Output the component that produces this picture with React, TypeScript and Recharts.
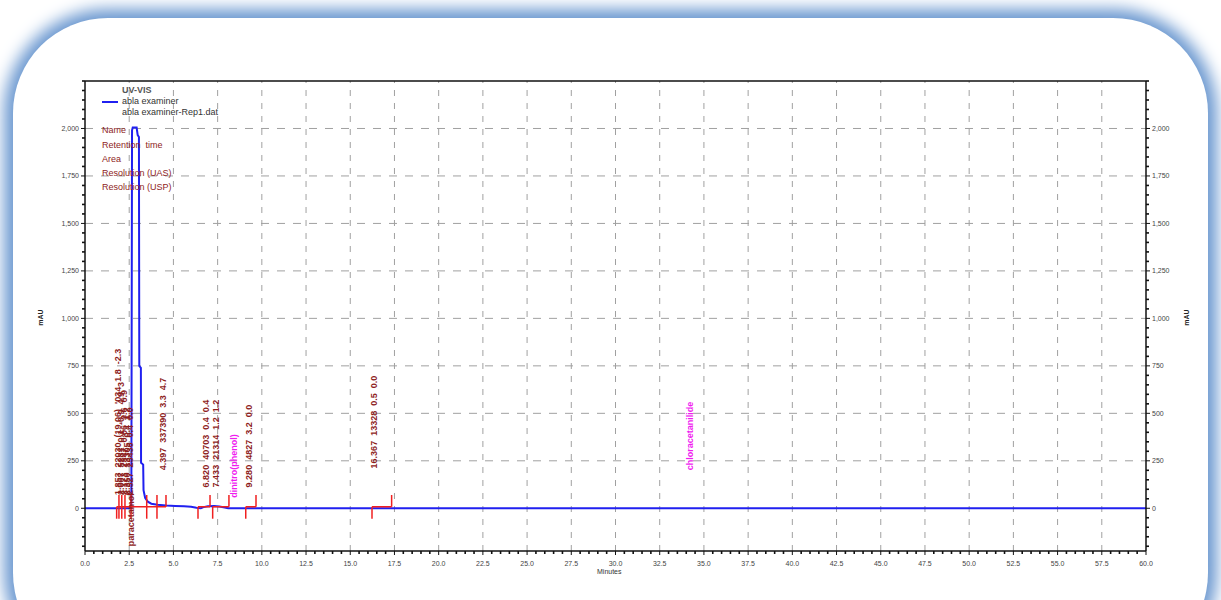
import React from 'react';
import { ComposedChart, Line, XAxis, YAxis, ReferenceLine, Scatter } from 'recharts';

// UV-VIS trace (minutes / mAU)
const times = [0, 2.62, 2.66, 2.7, 2.92, 2.98, 3.05, 3.07, 3.16, 3.17, 3.29, 3.31, 3.4, 3.55, 3.75, 4.1, 4.6, 5.1, 5.6, 6.0, 6.3, 6.55, 6.7, 6.95, 7.3, 7.6, 7.9, 8.1, 60];
const mau = [0, 0, 1990, 2005, 2005, 1965, 1955, 750, 740, 240, 230, 95, 55, 35, 24, 18, 14, 12, 10, 8, 3, 0, 6, 11, 12, 9, 4, 0, 0];

// integration marks
const peakStart = [1.79, 1.92, 2.08, 2.26, 2.6, 3.49, 4.07, 6.39, 7.22, 9.09, 16.23];
const peakEnd = [1.92, 2.08, 2.26, 2.6, 3.49, 4.07, 4.58, 7.07, 8.14, 9.67, 17.34];

// peak result labels (rotated)
const resultTimes = [1.85, 2.02, 2.18, 2.36, 2.52, 4.397, 6.82, 7.433, 9.28, 16.367];
const resultBase = [70, 70, 70, 70, 70, 200, 110, 110, 110, 210];
const resultTexts = [
  "1.853  22030  (19.06)  '034  1.8  -2.3",
  '2.007  5281  0.1  -0.9  4.9  3',
  '2.173  2347  0.06  3.6  6.9',
  '2.350  13305  0.4  1.2',
  '2.527  25436  0.4  0.0',
  '4.397  337390  3.3  4.7',
  '6.820  40703  0.4  0.4',
  '7.433  21314  1.2  1.2',
  '9.280  4827  3.2  0.0',
  '16.367  13328  0.5  0.0',
];

// expected component names
const nameTimes = [8.43, 34.2];
const nameBase = [55, 200];
const nameTexts = ['dinitro(phenol)', 'chloracetanilide'];

const compoundTimes = [2.62];
const compoundBase = [-200];
const compoundTexts = ['paracetamol'];

const xTicks = [0, 2.5, 5, 7.5, 10, 12.5, 15, 17.5, 20, 22.5, 25, 27.5, 30, 32.5, 35, 37.5, 40, 42.5, 45, 47.5, 50, 52.5, 55, 57.5, 60];
const yTicks = [0, 250, 500, 750, 1000, 1250, 1500, 1750, 2000];
const xMinor = Array.from({ length: 121 }, (_, i) => i * 0.5);
const yMinor = Array.from({ length: 50 }, (_, i) => -200 + i * 50);

const traceData = times.map((t, i) => ({ t, mau: mau[i] }));
const resultData = resultTimes.map((t, i) => ({ t, y: resultBase[i], text: resultTexts[i] }));
const nameData = nameTimes.map((t, i) => ({ t, y: nameBase[i], text: nameTexts[i] }));
const compoundData = compoundTimes.map((t, i) => ({ t, y: compoundBase[i], text: compoundTexts[i] }));

const FONT = '"Liberation Sans", Arial, sans-serif';
const DARK_RED = '#8e1d1d';
const PINK = '#f01cf0';

const fmtY = (v: number) => v.toLocaleString('en-US');
const isMajorY = (v: number) => yTicks.includes(v);

const LeftTick = ({ x, y, payload }: any) => {
  const major = isMajorY(payload.value);
  return (
    <g>
      <line x1={x} x2={x - (major ? 4 : 3)} y1={y} y2={y} stroke="#111" strokeWidth={major ? 1 : 1.6} />
      {major && (
        <text x={x - 6} y={y} textAnchor="end" dominantBaseline="central" fontSize={7} fill="#444" fontFamily={FONT}>
          {fmtY(payload.value)}
        </text>
      )}
    </g>
  );
};

const RightTick = ({ x, y, payload }: any) => {
  const major = isMajorY(payload.value);
  return (
    <g>
      <line x1={x} x2={x + (major ? 4 : 3)} y1={y} y2={y} stroke="#111" strokeWidth={major ? 1 : 1.6} />
      {major && (
        <text x={x + 6} y={y} textAnchor="start" dominantBaseline="central" fontSize={7} fill="#444" fontFamily={FONT}>
          {fmtY(payload.value)}
        </text>
      )}
    </g>
  );
};

const BottomTick = ({ x, y, payload }: any) => {
  const major = Math.abs(payload.value / 2.5 - Math.round(payload.value / 2.5)) < 1e-6;
  return (
    <g>
      <line x1={x} x2={x} y1={y} y2={y + (major ? 4 : 3)} stroke="#111" strokeWidth={major ? 1 : 1.6} />
      {major && (
        <text x={x} y={y + 12} textAnchor="middle" dominantBaseline="central" fontSize={7} fill="#444" fontFamily={FONT}>
          {payload.value.toFixed(1)}
        </text>
      )}
    </g>
  );
};

const makeLabel = (color: string) => (props: any) => {
  const { cx, cy, payload } = props;
  if (cx == null || cy == null) return <g />;
  return (
    <text
      x={cx}
      y={cy}
      transform={`rotate(-90 ${cx} ${cy})`}
      textAnchor="start"
      dominantBaseline="central"
      fontSize={9}
      fontWeight="bold"
      fill={color}
      fontFamily={FONT}
      style={{ whiteSpace: 'pre' }}
    >
      {payload.text}
    </text>
  );
};

const ResultLabel = makeLabel(DARK_RED);
const NameLabel = makeLabel(PINK);
const CompoundLabel = makeLabel(DARK_RED);

const gridStroke = '#a0a0a0';

export default function App() {
  return (
    <div style={{ position: 'absolute', left: 0, top: 0, width: 1221, height: 600, overflow: 'hidden', background: '#fff' }}>
      <div
        style={{
          position: 'absolute',
          left: 13,
          top: 18,
          width: 1195,
          height: 650,
          borderRadius: 95,
          background: '#fff',
          boxShadow: '0 0 16px 9px #6b98d0',
        }}
      />
      <div style={{ position: 'absolute', left: 0, top: 0 }}>
        <ComposedChart width={1221} height={600} data={traceData} margin={{ top: 81, right: 30, bottom: 19, left: 40 }}>
          <XAxis
            dataKey="t"
            type="number"
            domain={[0, 60]}
            ticks={xMinor}
            interval={0}
            allowDataOverflow
            tickSize={0}
            tickMargin={0}
            tickLine={false}
            tick={<BottomTick />}
            height={30}
            axisLine={{ stroke: '#111', strokeWidth: 1.5 }}
          />
          <YAxis
            type="number"
            domain={[-225, 2250]}
            ticks={yMinor}
            interval={0}
            allowDataOverflow
            tickSize={0}
            tickMargin={0}
            tickLine={false}
            tick={<LeftTick />}
            width={45}
            axisLine={{ stroke: '#111', strokeWidth: 1.5 }}
          />
          <YAxis
            yAxisId="right"
            orientation="right"
            type="number"
            domain={[-225, 2250]}
            ticks={yMinor}
            interval={0}
            allowDataOverflow
            tickSize={0}
            tickMargin={0}
            tickLine={false}
            tick={<RightTick />}
            width={45}
            axisLine={{ stroke: '#111', strokeWidth: 1.5 }}
          />
          {xTicks.slice(1, -1).map((v) => (
            <ReferenceLine key={'gx' + v} x={v} stroke={gridStroke} strokeDasharray="6 7" />
          ))}
          {yTicks.slice(1).map((v) => (
            <ReferenceLine key={'gy' + v} y={v} stroke={gridStroke} strokeDasharray="8 8" />
          ))}
          <ReferenceLine y={2250} stroke="#111" strokeWidth={1.5} />
          <Line dataKey="mau" type="linear" stroke="#2020f0" strokeWidth={2} dot={false} isAnimationActive={false} />
          {peakStart.map((s, i) => (
            <ReferenceLine
              key={'pb' + i}
              segment={[{ x: s, y: 8 }, { x: peakEnd[i], y: 8 }]}
              stroke="#f02020"
              strokeWidth={1.5}
              ifOverflow="visible"
            />
          ))}
          {peakStart.map((s, i) => (
            <ReferenceLine
              key={'ps' + i}
              segment={[{ x: s, y: -55 }, { x: s, y: 8 }]}
              stroke="#f02020"
              strokeWidth={1.5}
              ifOverflow="visible"
            />
          ))}
          {peakEnd.map((e, i) => (
            <ReferenceLine
              key={'pe' + i}
              segment={[{ x: e, y: 8 }, { x: e, y: 70 }]}
              stroke="#f02020"
              strokeWidth={1.5}
              ifOverflow="visible"
            />
          ))}
          <Scatter data={resultData} dataKey="y" shape={ResultLabel} isAnimationActive={false} />
          <Scatter data={nameData} dataKey="y" shape={NameLabel} isAnimationActive={false} />
          <Scatter data={compoundData} dataKey="y" shape={CompoundLabel} isAnimationActive={false} />
        </ComposedChart>
      </div>

      {/* legend block */}
      <div style={{ position: 'absolute', left: 0, top: 0, fontFamily: FONT, fontSize: 9, lineHeight: 1 }}>
        <div style={{ position: 'absolute', left: 122, top: 86, color: '#555', fontWeight: 'bold', whiteSpace: 'pre' }}>UV-VIS</div>
        <div style={{ position: 'absolute', left: 102, top: 101, width: 16, height: 2, background: '#2020f0' }} />
        <div style={{ position: 'absolute', left: 122, top: 97, color: '#333', whiteSpace: 'pre' }}>abla examiner</div>
        <div style={{ position: 'absolute', left: 122, top: 108, color: '#333', whiteSpace: 'pre' }}>abla examiner-Rep1.dat</div>
        <div style={{ position: 'absolute', left: 102, top: 126, color: DARK_RED, whiteSpace: 'pre' }}>Name</div>
        <div style={{ position: 'absolute', left: 102, top: 141, color: DARK_RED, whiteSpace: 'pre' }}>Retention  time</div>
        <div style={{ position: 'absolute', left: 102, top: 155, color: DARK_RED, whiteSpace: 'pre' }}>Area</div>
        <div style={{ position: 'absolute', left: 102, top: 169, color: DARK_RED, whiteSpace: 'pre' }}>Resolution (UAS)</div>
        <div style={{ position: 'absolute', left: 102, top: 183, color: DARK_RED, whiteSpace: 'pre' }}>Resolution (USP)</div>
      </div>

      {/* axis titles */}
      <div style={{ position: 'absolute', left: 32, top: 314, fontFamily: FONT, fontSize: 7, fontWeight: 'bold', color: '#222', transform: 'rotate(-90deg)' }}>mAU</div>
      <div style={{ position: 'absolute', left: 1178, top: 314, fontFamily: FONT, fontSize: 7, fontWeight: 'bold', color: '#222', transform: 'rotate(-90deg)' }}>mAU</div>
      <div style={{ position: 'absolute', left: 597, top: 568, fontFamily: FONT, fontSize: 7, color: '#333' }}>Minutes</div>
    </div>
  );
}
